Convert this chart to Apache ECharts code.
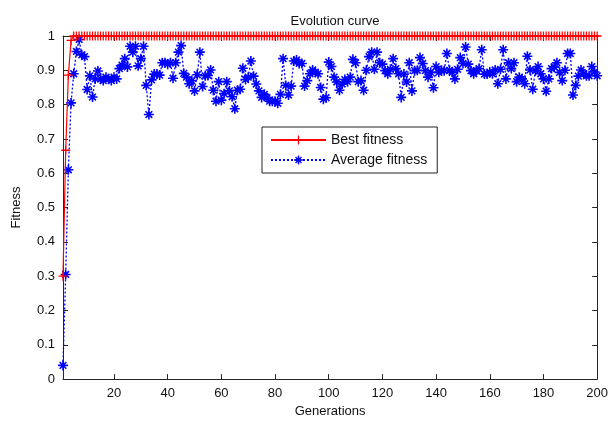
<!DOCTYPE html>
<html>
<head>
<meta charset="utf-8">
<script src="https://cdn.jsdelivr.net/npm/echarts@6/dist/echarts.min.js"></script>
<style>html,body{margin:0;padding:0;background:#fff}#c{width:611px;height:423px}</style>
</head>
<body>
<div id="c"></div>
<script>
const generations = Array.from({length: 200}, (_, i) => i + 1);
const bestFitness = [0.30, 0.667, 0.886, 0.987].concat(new Array(196).fill(1));
const averageFitness = [
  0.04, 0.305, 0.61, 0.805, 0.89, 0.955, 0.99, 0.945, 0.94, 0.844,
  0.884, 0.822, 0.875, 0.898, 0.875, 0.87, 0.88, 0.875, 0.87, 0.88,
  0.875, 0.905, 0.915, 0.934, 0.91, 0.97, 0.953, 0.97, 0.913, 0.934,
  0.97, 0.856, 0.771, 0.872, 0.889, 0.889, 0.886, 0.922, 0.922, 0.918,
  0.922, 0.877, 0.922, 0.953, 0.972, 0.891, 0.88, 0.861, 0.87, 0.84,
  0.887, 0.953, 0.853, 0.884, 0.885, 0.901, 0.842, 0.81, 0.867, 0.813,
  0.832, 0.867, 0.84, 0.823, 0.788, 0.842, 0.845, 0.906, 0.873, 0.88,
  0.927, 0.883, 0.86, 0.84, 0.821, 0.83, 0.82, 0.81, 0.81, 0.81,
  0.804, 0.83, 0.934, 0.856, 0.828, 0.854, 0.927, 0.93, 0.92, 0.92,
  0.854, 0.87, 0.89, 0.901, 0.894, 0.89, 0.85, 0.816, 0.82, 0.924,
  0.911, 0.88, 0.866, 0.842, 0.86, 0.873, 0.867, 0.88, 0.932, 0.922,
  0.867, 0.87, 0.842, 0.9, 0.94, 0.953, 0.903, 0.953, 0.922, 0.918,
  0.899, 0.89, 0.903, 0.934, 0.905, 0.89, 0.821, 0.889, 0.866, 0.922,
  0.84, 0.899, 0.9, 0.937, 0.92, 0.899, 0.88, 0.894, 0.849, 0.911,
  0.894, 0.9, 0.899, 0.949, 0.9, 0.894, 0.875, 0.903, 0.937, 0.92,
  0.968, 0.918, 0.899, 0.89, 0.899, 0.905, 0.96, 0.889, 0.889, 0.895,
  0.89, 0.901, 0.861, 0.903, 0.96, 0.875, 0.922, 0.905, 0.922, 0.867,
  0.88, 0.875, 0.861, 0.941, 0.901, 0.845, 0.899, 0.911, 0.89, 0.875,
  0.839, 0.875, 0.905, 0.91, 0.922, 0.894, 0.87, 0.9, 0.949, 0.949,
  0.828, 0.856, 0.883, 0.901, 0.89, 0.884, 0.884, 0.911, 0.895, 0.884
];
const xTicks = [20, 40, 60, 80, 100, 120, 140, 160, 180, 200];
const yTicks = [0, 0.1, 0.2, 0.3, 0.4, 0.5, 0.6, 0.7, 0.8, 0.9, 1];

const plusPath = 'path://M4.3,0h1.4v10h-1.4z M0,4.3h10v1.4h-10z';
const starPath = 'path://M4.2,0h1.6v10h-1.6z M0,4.2h10v1.6h-10z M1.1,2.2L2.2,1.1L8.9,7.8L7.8,8.9z M7.8,1.1L8.9,2.2L2.2,8.9L1.1,7.8z';

const font = 'Liberation Sans, Arial, sans-serif';
const axisColor = '#262626';
const chart = echarts.init(document.getElementById('c'), null, {renderer: 'canvas'});
const baseX = {
  type: 'value', min: 1, max: 200,
  axisLine: {show: true, onZero: false, lineStyle: {color: axisColor, width: 1}},
  axisTick: {show: true, inside: true, length: 5, customValues: xTicks, lineStyle: {color: axisColor}},
  splitLine: {show: false}
};
const baseY = {
  type: 'value', min: 0, max: 1,
  axisLine: {show: true, onZero: false, lineStyle: {color: axisColor, width: 1}},
  axisTick: {show: true, inside: true, length: 5, customValues: yTicks, lineStyle: {color: axisColor}},
  splitLine: {show: false}
};
chart.setOption({
  animation: false,
  backgroundColor: '#fff',
  title: {
    text: 'Evolution curve', left: 330, top: 10, textAlign: 'center',
    textStyle: {fontFamily: font, fontSize: 13, fontWeight: 'normal', color: '#111'}
  },
  grid: {left: 63, top: 36, width: 535, height: 352},
  legend: {
    orient: 'vertical', left: 262, top: 127,
    backgroundColor: '#fff', borderColor: '#222', borderWidth: 1,
    padding: [6, 10, 6, 8], itemGap: 6, itemWidth: 55, itemHeight: 11,
    textStyle: {fontFamily: font, fontSize: 14, color: '#111'},
    data: ['Best fitness', 'Average fitness']
  },
  xAxis: [
    Object.assign({}, baseX, {
      position: 'bottom',
      name: 'Generations', nameLocation: 'middle', nameGap: 22,
      nameTextStyle: {fontFamily: font, fontSize: 13, color: '#111'},
      axisLabel: {show: true, customValues: xTicks, fontFamily: font, fontSize: 13, color: '#111', margin: 8}
    }),
    Object.assign({}, baseX, {position: 'top', axisLabel: {show: false}})
  ],
  yAxis: [
    Object.assign({}, baseY, {
      position: 'left',
      name: 'Fitness', nameLocation: 'middle', nameGap: 40, nameRotate: 90,
      nameTextStyle: {fontFamily: font, fontSize: 13, color: '#111'},
      axisLabel: {show: true, customValues: yTicks, fontFamily: font, fontSize: 13, color: '#111', margin: 8}
    }),
    Object.assign({}, baseY, {position: 'right', axisLabel: {show: false}})
  ],
  series: [
    {
      name: 'Best fitness', type: 'line', xAxisIndex: 0, yAxisIndex: 0,
      data: generations.map((g, i) => [g, bestFitness[i]]),
      symbol: plusPath, symbolSize: 9, showAllSymbol: true,
      itemStyle: {color: '#ff0000'},
      lineStyle: {color: '#ff0000', width: 1.2},
      z: 3
    },
    {
      name: 'Average fitness', type: 'line', xAxisIndex: 0, yAxisIndex: 0,
      data: generations.map((g, i) => [g, averageFitness[i]]),
      symbol: starPath, symbolSize: 10, showAllSymbol: true,
      itemStyle: {color: '#0000ff'},
      lineStyle: {color: '#0000ff', width: 1.3, type: [2, 2]},
      z: 2
    }
  ]
});
</script>
</body>
</html>
